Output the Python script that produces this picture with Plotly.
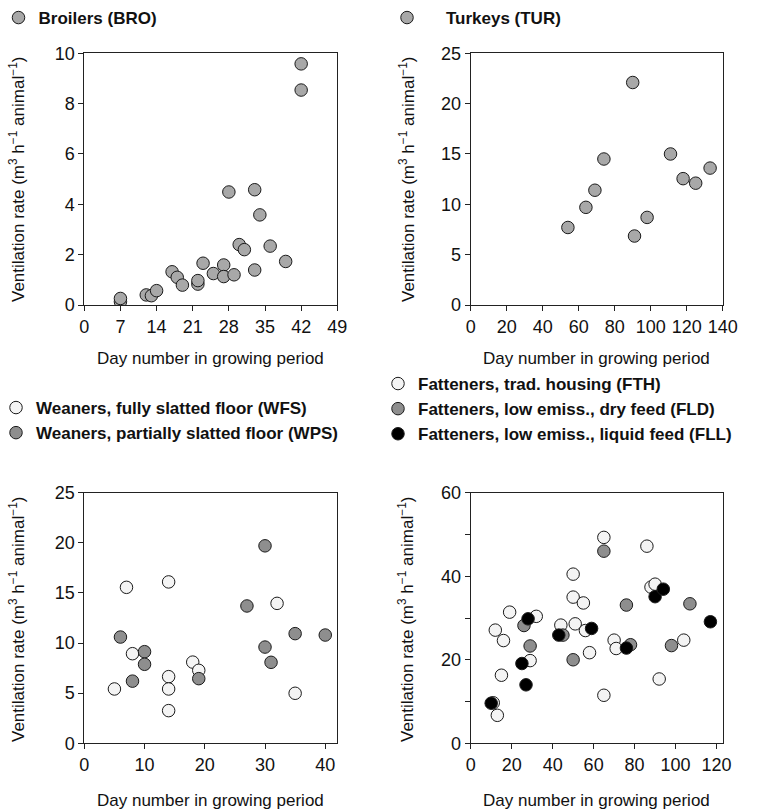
import plotly.graph_objects as go

# ---------------- data ----------------
bro_day = [7, 7, 12, 13, 14, 17, 18, 19, 22, 22, 23, 25, 27, 27, 28, 29, 30, 31, 33, 33, 34, 36, 39, 42, 42]
bro_vr = [0.13, 0.26, 0.40, 0.37, 0.57, 1.32, 1.10, 0.79, 0.83, 0.97, 1.66, 1.25, 1.59, 1.13, 4.49,
          1.20, 2.40, 2.20, 4.58, 1.39, 3.58, 2.34, 1.73, 9.58, 8.54]

tur_day = [54, 64, 69, 74, 90, 91, 98, 111, 118, 125, 133]
tur_vr = [7.7, 9.7, 11.4, 14.5, 22.1, 6.85, 8.7, 15.0, 12.55, 12.1, 13.6]

wfs_day = [5, 7, 8, 14, 14, 14, 14, 18, 19, 32, 35]
wfs_vr = [5.42, 15.56, 8.94, 16.1, 6.65, 5.42, 3.26, 8.1, 7.28, 13.96, 4.99]
wps_day = [6, 8, 10, 10, 19, 27, 30, 30, 31, 35, 40]
wps_vr = [10.6, 6.2, 9.14, 7.88, 6.45, 13.7, 19.7, 9.6, 8.08, 10.94, 10.8]

fth_day = [12, 16, 19, 15, 13, 11, 29, 32, 44, 50, 50, 51, 55, 56, 58, 65, 65, 70, 71, 86, 88, 90, 92, 104]
fth_vr = [27.1, 24.6, 31.4, 16.3, 6.7, 9.7, 19.8, 30.4, 28.3, 40.5, 35.0, 28.6, 33.6, 27.0, 21.7,
          49.3, 11.5, 24.7, 22.7, 47.2, 37.4, 38.1, 15.4, 24.7]
fld_day = [26, 29, 45, 50, 65, 76, 78, 98, 107]
fld_vr = [28.2, 23.3, 25.9, 20.0, 46.0, 33.1, 23.6, 23.4, 33.4]
fll_day = [10, 25, 27, 28, 43, 59, 76, 90, 94, 117]
fll_vr = [9.6, 19.1, 14.0, 29.8, 25.9, 27.5, 22.8, 35.1, 36.9, 29.1]

x_title = "Day number in growing period"
y_title = "Ventilation rate (m<sup>3</sup> h<sup>\u22121</sup> animal<sup>\u22121</sup>)"

FONT = "Liberation Sans, Arial, sans-serif"
GRAY1 = "#a8a8a8"
GRAY2 = "#8e8e8e"
WHITE = "#f4f4f4"
BLACK = "#000000"
EDGE = "#1a1a1a"

fig = go.Figure()


def add(x, y, name, color, xa, ya, legend):
    fig.add_trace(go.Scatter(
        x=x, y=y, mode="markers", name=name, xaxis=xa, yaxis=ya, legend=legend,
        marker=dict(size=12.5, color=color, line=dict(color=EDGE, width=1)),
        hoverinfo="x+y",
    ))


add(bro_day, bro_vr, "Broilers (BRO)", GRAY1, "x", "y", "legend")
add(tur_day, tur_vr, "\u00a0\u00a0\u00a0\u00a0Turkeys (TUR)", GRAY1, "x2", "y2", "legend2")
add(wfs_day, wfs_vr, "Weaners, fully slatted floor (WFS)", WHITE, "x3", "y3", "legend3")
add(wps_day, wps_vr, "Weaners, partially slatted floor (WPS)", GRAY2, "x3", "y3", "legend3")
add(fth_day, fth_vr, "Fatteners, trad. housing (FTH)", WHITE, "x4", "y4", "legend4")
add(fld_day, fld_vr, "Fatteners, low emiss., dry feed (FLD)", GRAY2, "x4", "y4", "legend4")
add(fll_day, fll_vr, "Fatteners, low emiss., liquid feed (FLL)", BLACK, "x4", "y4", "legend4")

W, H = 760, 810
L_dom = [84.3 / W, 337.3 / W]
R_dom = [470.7 / W, 722.7 / W]
T_dom = [(H - 305) / H, (H - 53.3) / H]
B_dom = [(H - 743.3) / H, (H - 492.7) / H]

axis_common = dict(
    showline=True, linecolor="#222222", linewidth=1, mirror=True,
    ticks="outside", ticklen=5, tickwidth=1, tickcolor="#222222",
    showgrid=False, zeroline=False,
    tickfont=dict(family=FONT, size=18, color="#111111"),
)


def xa(dom, rng, dtick, anchor):
    d = dict(axis_common)
    d.update(domain=dom, range=rng, dtick=dtick, tick0=0, anchor=anchor)
    return d


def ya(dom, rng, dtick, anchor, minor=None):
    d = dict(axis_common)
    d.update(domain=dom, range=rng, dtick=dtick, tick0=0, anchor=anchor)
    if minor:
        d["minor"] = dict(dtick=minor, ticks="outside", ticklen=5, tickcolor="#222222", showgrid=False)
    return d


legend_common = dict(
    font=dict(family=FONT, size=17, color="#111111", weight="bold"),
    bgcolor="rgba(0,0,0,0)", borderwidth=0, xanchor="left", yanchor="top",
    itemclick=False, itemdoubleclick=False, tracegroupgap=0,
)

fig.update_layout(
    width=W, height=H, margin=dict(l=0, r=0, t=0, b=0, autoexpand=False),
    paper_bgcolor="white", plot_bgcolor="white",
    font=dict(family=FONT, color="#111111"),
    xaxis=xa(L_dom, [0, 49], 7, "y"),
    yaxis=ya(T_dom, [0, 10], 2, "x"),
    xaxis2=xa(R_dom, [0, 140], 20, "y2"),
    yaxis2=ya(T_dom, [0, 25], 5, "x2"),
    xaxis3=xa(L_dom, [0, 42], 10, "y3"),
    yaxis3=ya(B_dom, [0, 25], 5, "x3"),
    xaxis4=xa(R_dom, [0, 123], 20, "y4"),
    yaxis4=ya(B_dom, [0, 60], 20, "x4", minor=10),
    legend=dict(legend_common, x=-1.5 / W, y=1.0),
    legend2=dict(legend_common, x=387 / W, y=1.0),
    legend3=dict(legend_common, x=-4 / W, y=1 - 390 / H),
    legend4=dict(legend_common, x=378 / W, y=1 - 366 / H),
    showlegend=True,
)

ann = []
for xc, yc in [((84.3 + 337.3) / 2, 358), ((470.7 + 722.7) / 2, 358),
               ((84.3 + 337.3) / 2, 800), ((470.7 + 722.7) / 2, 800)]:
    ann.append(dict(text=x_title, x=xc / W, y=1 - yc / H, xref="paper", yref="paper",
                    showarrow=False, xanchor="center", yanchor="middle",
                    font=dict(family=FONT, size=17, color="#111111")))
for xc, yc in [(17, 180), (407, 180), (17, 620), (406, 620)]:
    ann.append(dict(text=y_title, x=xc / W, y=1 - yc / H, xref="paper", yref="paper",
                    showarrow=False, xanchor="center", yanchor="middle", textangle=-90,
                    font=dict(family=FONT, size=17, color="#111111")))
fig.update_layout(annotations=ann)

fig.write_html("out.html", post_script="document.body.style.margin='0';document.body.style.overflow='hidden';")
